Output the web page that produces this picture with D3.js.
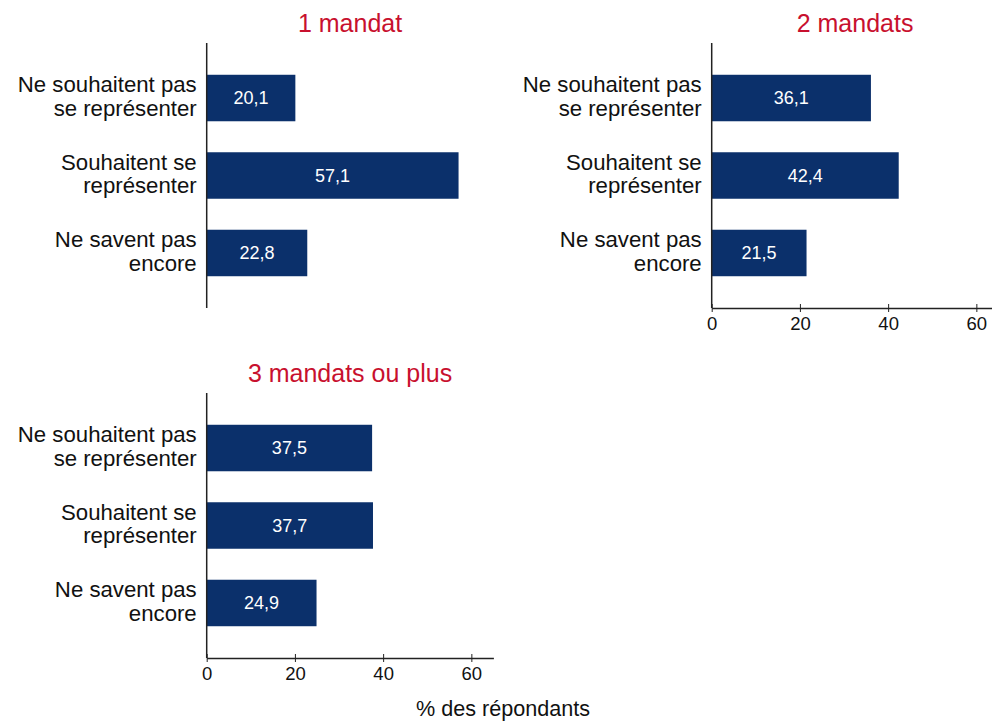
<!DOCTYPE html>
<html>
<head>
<meta charset="utf-8">
<script src="https://cdn.jsdelivr.net/npm/d3@7"></script>
<style>
  body { margin: 0; background: #fff; }
  svg { display: block; font-family: "Liberation Sans", Arial, sans-serif; }
</style>
</head>
<body>
<svg id="chart" width="992" height="723"></svg>
<script>
// Intention de se représenter selon le nombre de mandats

var panels = ["1 mandat", "2 mandats", "3 mandats ou plus"]
var categories = [
  ["Ne souhaitent pas", "se représenter"],
  ["Souhaitent se", "représenter"],
  ["Ne savent pas", "encore"]
]
var values1 = [20.1, 57.1, 22.8]
var values2 = [36.1, 42.4, 21.5]
var values3 = [37.5, 37.7, 24.9]
var tickValues = [0, 20, 40, 60]
var xTitle = "% des répondants"

var allValues = [values1, values2, values3]

// placement of each panel (left edge of plot, top of plot, show x axis?)
var layout = [
  { x: 206.7, y: 43, axis: false },
  { x: 711.7, y: 43, axis: true },
  { x: 206.7, y: 393, axis: true }
]

var plotW = 286.7
var plotH = 265
var barColor = "#0b306b"
var titleColor = "#c8102e"

var svg = d3.select("#chart")

var x = d3.scaleLinear().domain([0, 65]).range([0, plotW])
var y = d3.scaleBand()
  .domain(d3.range(categories.length))
  .range([0, plotH])
  .paddingInner(0.4)
  .paddingOuter(0.41)

layout.forEach(function(p, i) {
  var g = svg.append("g").attr("transform", "translate(" + p.x + "," + p.y + ")")
  var vals = allValues[i]

  // panel title
  g.append("text")
    .attr("x", plotW / 2)
    .attr("y", -11)
    .attr("text-anchor", "middle")
    .attr("fill", titleColor)
    .style("font-size", "25px")
    .text(panels[i])

  // bars
  g.selectAll("rect.bar")
    .data(vals)
    .enter().append("rect")
    .attr("class", "bar")
    .attr("x", 0)
    .attr("y", function(d, j) { return y(j) })
    .attr("width", function(d) { return x(d) })
    .attr("height", y.bandwidth())
    .attr("fill", barColor)

  // value labels
  g.selectAll("text.val")
    .data(vals)
    .enter().append("text")
    .attr("class", "val")
    .attr("x", function(d) { return x(d) / 2 })
    .attr("y", function(d, j) { return y(j) + y.bandwidth() / 2 })
    .attr("dy", "0.35em")
    .attr("text-anchor", "middle")
    .attr("fill", "#fff")
    .style("font-size", "18px")
    .text(function(d) { return d3.format(".1f")(d).replace(".", ",") })

  // category labels (two lines)
  var lab = g.selectAll("text.cat")
    .data(categories)
    .enter().append("text")
    .attr("class", "cat")
    .attr("text-anchor", "end")
    .attr("fill", "#111")
    .style("font-size", "22.2px")
    .attr("transform", function(d, j) {
      return "translate(-10," + (y(j) + y.bandwidth() / 2) + ")"
    })
  lab.selectAll("tspan")
    .data(function(d) { return d })
    .enter().append("tspan")
    .attr("x", 0)
    .attr("y", function(d, k) { return k === 0 ? -13.4 : 9.8 })
    .attr("dy", "0.35em")
    .text(function(d) { return d })

  // y axis line
  g.append("line")
    .attr("x1", 0).attr("x2", 0)
    .attr("y1", 0).attr("y2", plotH)
    .attr("stroke", "#222")
    .attr("stroke-width", 1.5)

  if (p.axis) {
    var ax = g.append("g")
      .attr("transform", "translate(0," + plotH + ")")
      .call(d3.axisBottom(x).tickValues(tickValues).tickSize(4).tickSizeOuter(0))
    ax.select(".domain").attr("stroke", "#222").attr("stroke-width", 1.5)
    ax.selectAll(".tick line").attr("stroke", "#222").attr("y1", -4).attr("y2", 4)
    ax.selectAll(".tick text")
      .attr("y", 9)
      .attr("fill", "#111")
      .style("font-size", "18.5px")
      .style("font-family", "Liberation Sans, Arial, sans-serif")
  }
})

// x axis title
svg.append("text")
  .attr("x", 503)
  .attr("y", 708)
  .attr("dy", "0.35em")
  .attr("text-anchor", "middle")
  .attr("fill", "#111")
  .style("font-size", "21.6px")
  .text(xTitle)
</script>
</body>
</html>
